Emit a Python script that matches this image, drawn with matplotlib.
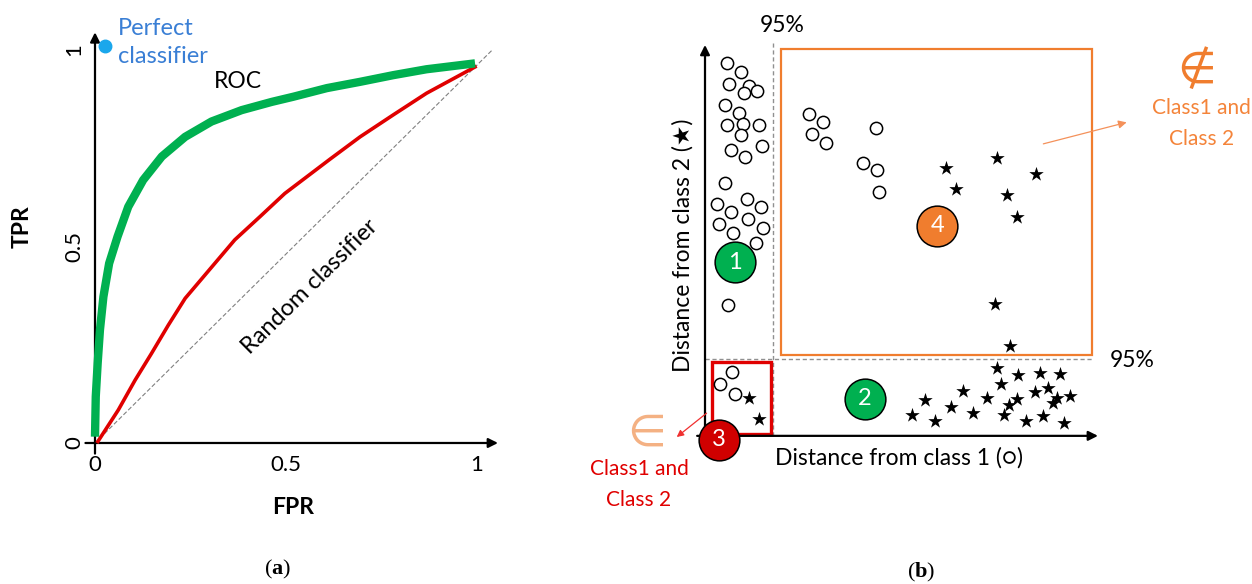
import numpy as np
import matplotlib.pyplot as plt

plt.rcParams['font.family'] = ['Lato', 'DejaVu Sans']
plt.rcParams['mathtext.fontset'] = 'custom'
plt.rcParams['mathtext.rm'] = 'Liberation Serif'
plt.rcParams['mathtext.bf'] = 'Liberation Serif:bold'

# ---- (a) ROC curves ----
good_fpr = [0.0, 0.002, 0.007, 0.013, 0.022, 0.037, 0.059, 0.087, 0.126, 0.175, 0.236,
            0.305, 0.384, 0.463, 0.519, 0.607, 0.694, 0.781, 0.868, 0.995]
good_tpr = [0.016, 0.118, 0.203, 0.288, 0.372, 0.457, 0.525, 0.601, 0.669, 0.729, 0.779,
            0.818, 0.847, 0.868, 0.881, 0.903, 0.919, 0.936, 0.951, 0.966]
mid_fpr = [0.005, 0.061, 0.105, 0.148, 0.192, 0.236, 0.366, 0.432, 0.497, 0.615, 0.694,
           0.781, 0.868, 0.999]
mid_tpr = [0.0, 0.084, 0.160, 0.228, 0.300, 0.368, 0.517, 0.576, 0.635, 0.722, 0.779,
           0.835, 0.890, 0.959]
chance_fpr = [0.0, 1.04]
chance_tpr = [0.0, 1.0]
perfect_fpr = [0.026]
perfect_tpr = [1.01]
tick_vals = [0, 0.5, 1]
tick_labels = ['0', '0.5', '1']

# ---- (b) distance plot ----
class1_x = [5.5, 9.2, 6.2, 11.3, 10.0, 13.2, 5.1, 8.7, 5.5, 9.7, 13.7, 9.2, 14.4, 6.5, 10.2,
            5.1, 3.1, 10.6, 6.6, 14.2, 3.6, 11.0, 7.2, 14.8, 13.0, 5.9,
            26.5, 30.1, 27.2, 30.8, 43.5, 40.1, 43.7, 44.4,
            6.9, 3.8, 7.6]
class1_y = [95.3, 93.2, 90.0, 89.5, 87.8, 88.1, 84.7, 82.5, 79.5, 79.7, 79.5, 77.0, 74.2, 73.1, 71.3,
            64.8, 59.3, 60.6, 57.2, 58.5, 54.2, 55.4, 51.8, 53.1, 49.3, 33.5,
            82.4, 80.3, 77.2, 75.0, 78.7, 69.7, 67.9, 62.5,
            16.3, 13.2, 10.7]
class2_x = [61.3, 64.0, 74.4, 84.2, 76.8, 79.3, 73.8, 77.6,
            74.2, 79.7, 85.2, 90.3, 75.2, 65.7, 56.0, 62.5, 71.8, 79.3, 84.1, 87.2, 89.5, 92.9,
            88.6, 77.4, 52.6, 58.5, 68.3, 76.1, 81.6, 85.9, 91.4,
            11.3, 13.8]
class2_y = [68.5, 63.1, 71.2, 66.9, 61.6, 56.1, 33.8, 23.0,
            17.3, 15.6, 16.0, 15.9, 13.3, 11.5, 9.2, 7.5, 9.6, 9.4, 11.1, 12.2, 9.6, 10.3,
            8.5, 7.9, 5.4, 3.7, 5.8, 5.4, 3.8, 5.1, 3.2,
            9.6, 4.3]
thr_x = 17.3   # 95% of class 1
thr_y = 19.7   # 95% of class 2
region_x = [7.6, 40.7, 3.6, 59.1]
region_y = [44.4, 9.5, -1.0, 53.7]
region_labels = ['1', '2', '3', '4']
region_colors = ['#00B050', '#00B050', '#D00000', '#F07D2E']

fig = plt.figure(figsize=(12.52, 5.84), dpi=100)

# ================= (a) =================
ax1 = fig.add_axes([0, 0, 540 / 1252, 1])
ax1.set_xlim(-0.2487, 1.165)
ax1.set_ylim(-0.3588, 1.1272)
ax1.patch.set_visible(False)
for s in ['top', 'right', 'left', 'bottom']:
    ax1.spines[s].set_visible(False)
ax1.spines['left'].set_position(('data', 0))
ax1.spines['bottom'].set_position(('data', 0))
ax1.set_xticks(tick_vals, tick_labels, fontsize=16)
ax1.set_yticks(tick_vals, tick_labels, fontsize=16, rotation=90, va='center')
ax1.tick_params(length=0)
ax1.tick_params(axis='x', pad=9)
ax1.tick_params(axis='y', pad=8)

ax1.annotate('', xy=(1.055, 0), xytext=(-0.025, 0),
             arrowprops=dict(arrowstyle='-|>', lw=1.6, color='black', shrinkA=0, shrinkB=0,
                             mutation_scale=14))
ax1.annotate('', xy=(0, 1.045), xytext=(0, -0.027),
             arrowprops=dict(arrowstyle='-|>', lw=1.6, color='black', shrinkA=0, shrinkB=0,
                             mutation_scale=14))

ax1.plot(chance_fpr, chance_tpr, ls='--', color='#808080', lw=0.8, dashes=(4, 2))
ax1.plot(mid_fpr, mid_tpr, color='#E00000', lw=2.6, solid_capstyle='butt',
         solid_joinstyle='round', zorder=3)
ax1.plot(good_fpr, good_tpr, color='#00B050', lw=6, solid_capstyle='butt',
         solid_joinstyle='round', zorder=4)
ax1.plot(perfect_fpr, perfect_tpr, 'o', color='#1AA7EC', ms=9, zorder=5)

ax1.text(0.06, 1.019, 'Perfect\nclassifier', color='#3A7FD5', fontsize=17,
         ha='left', va='center', linespacing=1.45)
ax1.text(0.374, 0.919, 'ROC', fontsize=16.5, ha='center', va='center')
ax1.text(0.563, 0.397, 'Random classifier', fontsize=17, rotation=44.6,
         rotation_mode='anchor', ha='center', va='center')
ax1.text(-0.191, 0.55, 'TPR', fontsize=16.5, fontweight='bold', rotation=90,
         ha='center', va='center')
ax1.text(0.518, -0.165, 'FPR', fontsize=16.5, fontweight='bold', ha='center', va='center')
ax1.text(0.479, -0.323, '($\\mathbf{a}$)', fontsize=16, ha='center', va='center',
         family=['Liberation Serif'])

# ================= (b) =================
ax2 = fig.add_axes([560 / 1252, 0, 692 / 1252, 1])
ax2.set_xlim(-36.9, 139.2)
ax2.set_ylim(-37.9, 111.5)
ax2.axis('off')

ax2.annotate('', xy=(100, 0), xytext=(-2, 0),
             arrowprops=dict(arrowstyle='-|>', lw=1.6, color='black', shrinkA=0, shrinkB=0,
                             mutation_scale=14))
ax2.annotate('', xy=(0, 100), xytext=(0, 0),
             arrowprops=dict(arrowstyle='-|>', lw=1.6, color='black', shrinkA=0, shrinkB=0,
                             mutation_scale=14))

ax2.plot([thr_x, thr_x], [0, 100.5], ls='--', color='#909090', lw=1.0, dashes=(3, 2))
ax2.plot([0, 98.5], [thr_y, thr_y], ls='--', color='#909090', lw=1.0, dashes=(3, 2))

ax2.add_patch(plt.Rectangle((19.3, 20.7), 98.5 - 19.3, 99 - 20.7, fill=False,
                            edgecolor='#F07D2E', lw=1.6, zorder=2))
ax2.add_patch(plt.Rectangle((1.8, 0.5), 16.8 - 1.8, 18.9 - 0.5, fill=False,
                            edgecolor='#E00000', lw=2.4, zorder=2))

ax2.scatter(class1_x, class1_y, s=78, marker='o', facecolor='white', edgecolor='black',
            lw=1.1, zorder=3)
ax2.scatter(class2_x, class2_y, s=120, marker='*', color='black', lw=0, zorder=3)

for x, y, lab, col in zip(region_x, region_y, region_labels, region_colors):
    ax2.scatter([x], [y], s=860, color=col, edgecolor='black', lw=1.1, zorder=5)
    ax2.text(x, y, lab, color='white', fontsize=17, ha='center', va='center', zorder=6)

ax2.annotate('', xy=(107.3, 80.2), xytext=(86.1, 74.7),
             arrowprops=dict(arrowstyle='-|>', lw=0.9, color='#F4915A', shrinkA=0, shrinkB=0,
                             mutation_scale=12))
ax2.annotate('', xy=(-7.2, -0.3), xytext=(0.4, 5.8),
             arrowprops=dict(arrowstyle='-|>', lw=0.9, color='#F03030', shrinkA=0, shrinkB=0,
                             mutation_scale=10), zorder=4)

ax2.text(125.1, 93.6, '\u2209', color='#F07D2E', fontsize=32, ha='center', va='center',
         family=['DejaVu Sans'])
ax2.text(126.4, 83.8, 'Class1 and', color='#F4843A', fontsize=15, ha='center', va='center')
ax2.text(126.4, 75.9, 'Class 2', color='#F4843A', fontsize=15, ha='center', va='center')

ax2.text(-14.8, 0.7, '\u2208', color='#F4B183', fontsize=32, ha='center', va='center',
         family=['DejaVu Sans'])
ax2.text(-16.8, -8.4, 'Class1 and', color='#E00000', fontsize=15, ha='center', va='center')
ax2.text(-16.8, -16.5, 'Class 2', color='#E00000', fontsize=15, ha='center', va='center')

ax2.text(19.6, 105.1, '95%', fontsize=16.5, ha='center', va='center')
ax2.text(108.7, 19.4, '95%', fontsize=16.5, ha='center', va='center')
ax2.text(-5.6, 48.8, 'Distance from class 2 (\u2605)', fontsize=16.5, rotation=90,
         ha='center', va='center')
ax2.text(49.4, -5.6, 'Distance from class 1 (\u25CB)', fontsize=16.5, ha='center', va='center')
ax2.text(55.0, -35.0, '($\\mathbf{b}$)', fontsize=16, ha='center', va='center',
         family=['Liberation Serif'])

fig.savefig('out.png', dpi=100)
